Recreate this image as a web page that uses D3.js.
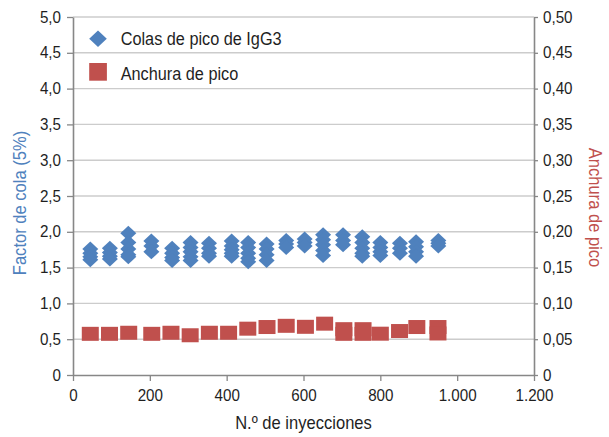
<!DOCTYPE html>
<html>
<head>
<meta charset="utf-8">
<script src="https://cdn.jsdelivr.net/npm/d3@7"></script>
<style>
  body { margin: 0; background: #fff; }
  svg { display: block; }
  text { font-family: "Liberation Sans", Arial, sans-serif; fill: #1f1f1f; }
</style>
</head>
<body>
<svg id="chart" width="609" height="437"></svg>
<script>
// Peak tailing factor (5%) of IgG3 at each injection count
const tailInjections = [
  45, 45, 45, 45,
  96, 96, 96, 96,
  144, 144, 144, 144, 144,
  204, 204, 204,
  258, 258, 258, 258,
  306, 306, 306, 306, 306,
  354, 354, 354, 354,
  413, 413, 413, 413, 413,
  456, 456, 456, 456, 456,
  504, 504, 504, 504,
  555, 555, 555,
  603, 603, 603,
  651, 651, 651, 651, 651,
  703, 703, 703,
  753, 753, 753, 753, 753,
  800, 800, 800, 800,
  851, 851, 851,
  893, 893, 893, 893,
  951, 951, 951
];
const tailFactor = [
  1.76, 1.70, 1.65, 1.61,
  1.77, 1.71, 1.66, 1.62,
  1.98, 1.85, 1.76, 1.68, 1.65,
  1.87, 1.80, 1.72,
  1.77, 1.70, 1.64, 1.60,
  1.85, 1.78, 1.72, 1.65, 1.60,
  1.84, 1.77, 1.70, 1.66,
  1.87, 1.80, 1.75, 1.70, 1.66,
  1.85, 1.78, 1.70, 1.63, 1.58,
  1.83, 1.76, 1.68, 1.60,
  1.88, 1.83, 1.78,
  1.90, 1.85, 1.80,
  1.96, 1.89, 1.82, 1.74, 1.67,
  1.96, 1.88, 1.82,
  1.93, 1.85, 1.77, 1.70, 1.66,
  1.85, 1.78, 1.72, 1.67,
  1.84, 1.77, 1.70,
  1.86, 1.79, 1.72, 1.66,
  1.88, 1.84, 1.80
];

// Peak width at each injection count (right axis)
const widthInjections = [45, 95, 145, 205, 255, 305, 355, 405, 455, 505, 555, 605, 655, 705, 705, 755, 755, 800, 850, 895, 950, 950];
const peakWidth = [0.0575, 0.0575, 0.059, 0.0575, 0.059, 0.0555, 0.059, 0.059, 0.0647, 0.067, 0.0687, 0.0673, 0.0717, 0.064, 0.0575, 0.064, 0.0575, 0.0577, 0.0614, 0.067, 0.067, 0.058];

const leftTicks = [0, 0.5, 1, 1.5, 2, 2.5, 3, 3.5, 4, 4.5, 5];
const rightTicks = [0, 0.05, 0.1, 0.15, 0.2, 0.25, 0.3, 0.35, 0.4, 0.45, 0.5];
const xTicks = [0, 200, 400, 600, 800, 1000, 1200];

const seriesNames = ["Colas de pico de IgG3", "Anchura de pico"];
const xTitle = "N.º de inyecciones";
const leftTitle = "Factor de cola (5%)";
const rightTitle = "Anchura de pico";

const BLUE = "#4f81bd";
const RED = "#c0504d";
const AXIS = "#878787";
const GRID = "#cccccc";

const plot = { left: 73, right: 534, top: 17, bottom: 375 };

const svg = d3.select("#chart");
const es = d3.formatLocale({ decimal: ",", thousands: ".", grouping: [3], currency: ["", " €"] });
const fmtX = es.format(",d");
const fmtL = d => d === 0 ? "0" : es.format(".1f")(d);
const fmtR = d => d === 0 ? "0" : es.format(".2f")(d);

const x = d3.scaleLinear().domain([0, 1200]).range([plot.left, plot.right]);
const yL = d3.scaleLinear().domain([0, 5]).range([plot.bottom, plot.top]);
const yR = d3.scaleLinear().domain([0, 0.5]).range([plot.bottom, plot.top]);

// horizontal gridlines
svg.append("g")
  .selectAll("line")
  .data(leftTicks.filter(d => d > 0))
  .join("line")
  .attr("x1", plot.left).attr("x2", plot.right)
  .attr("y1", d => yL(d)).attr("y2", d => yL(d))
  .attr("stroke", GRID).attr("stroke-width", 1.4);

// narrow the labels a little, keeping their anchor point in place
function condense(sel, k) {
  sel.each(function () {
    const t = d3.select(this);
    const tx = +t.attr("x") || 0;
    t.attr("transform", `translate(${tx},0) scale(${k},1) translate(${-tx},0)`);
  });
}

function styleAxis(g) {
  g.select(".domain").attr("stroke", AXIS).attr("stroke-width", 1.6);
  g.selectAll(".tick line").attr("stroke", AXIS).attr("stroke-width", 1.3);
  g.selectAll(".tick text")
    .attr("fill", "#1f1f1f")
    .style("font-size", "16px")
    .style("font-family", "'Liberation Sans', Arial, sans-serif")
    .call(condense, 0.95);
}

// left axis
svg.append("g")
  .attr("transform", `translate(${plot.left},0)`)
  .call(d3.axisLeft(yL).tickValues(leftTicks).tickFormat(fmtL).tickSize(6).tickSizeOuter(0).tickPadding(6))
  .call(styleAxis);

// right axis
svg.append("g")
  .attr("transform", `translate(${plot.right},0)`)
  .call(d3.axisRight(yR).tickValues(rightTicks).tickFormat(fmtR).tickSize(4).tickSizeOuter(0).tickPadding(5))
  .call(styleAxis);

// bottom axis
svg.append("g")
  .attr("transform", `translate(0,${plot.bottom})`)
  .call(d3.axisBottom(x).tickValues(xTicks).tickFormat(fmtX).tickSize(6).tickSizeOuter(0).tickPadding(9))
  .call(styleAxis);

// diamond marker path
const diamond = (w, h) => `M0,${-h}L${w},0L0,${h}L${-w},0Z`;

// tailing factor markers
svg.append("g")
  .selectAll("path")
  .data(tailInjections.map((n, i) => [n, tailFactor[i]]))
  .join("path")
  .attr("transform", d => `translate(${x(d[0])},${yL(d[1])})`)
  .attr("d", diamond(8, 7.5))
  .attr("fill", BLUE);

// peak width markers
const sqW = 17, sqH = 14;
svg.append("g")
  .selectAll("rect")
  .data(widthInjections.map((n, i) => [n, peakWidth[i]]))
  .join("rect")
  .attr("x", d => x(d[0]) - sqW / 2)
  .attr("y", d => yR(d[1]) - sqH / 2)
  .attr("width", sqW).attr("height", sqH)
  .attr("fill", RED);

// legend
const legend = svg.append("g").attr("transform", "translate(98,0)");
legend.append("path").attr("transform", "translate(0,38.7)").attr("d", diamond(8.8, 8.3)).attr("fill", BLUE);
legend.append("rect").attr("x", -8.8).attr("y", 63).attr("width", 17.7).attr("height", 17.7).attr("fill", RED);
legend.selectAll("text.item")
  .data(seriesNames)
  .join("text")
  .attr("class", "item")
  .attr("x", 22.7).attr("y", (d, i) => i === 0 ? 45.5 : 80)
  .style("font-size", "18.5px")
  .text(d => d)
  .call(condense, 0.88);

// axis titles
svg.append("text")
  .attr("x", (plot.left + plot.right) / 2).attr("y", 429)
  .attr("text-anchor", "middle")
  .style("font-size", "18px")
  .text(xTitle)
  .call(condense, 0.92);

svg.append("text")
  .attr("transform", "translate(26,203) rotate(-90) scale(0.92,1)")
  .attr("text-anchor", "middle")
  .style("font-size", "18px")
  .style("fill", BLUE)
  .text(leftTitle);

svg.append("text")
  .attr("transform", "translate(589,207.5) rotate(90) scale(0.92,1)")
  .attr("text-anchor", "middle")
  .style("font-size", "18px")
  .style("fill", RED)
  .text(rightTitle);
</script>
</body>
</html>
